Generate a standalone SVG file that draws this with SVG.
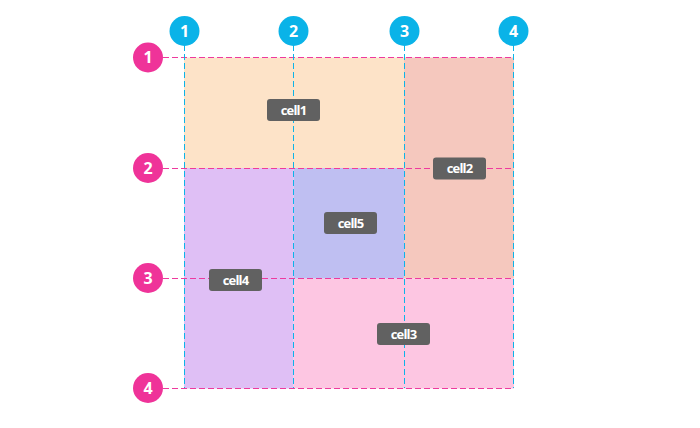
<svg xmlns="http://www.w3.org/2000/svg" width="700" height="428" viewBox="0 0 700 428">
<style>
.lbl rect{fill:#616161}
.lbl text{fill:#fff;font-family:"Open Sans","DejaVu Sans",sans-serif;font-weight:bold;font-size:13px;text-anchor:middle;letter-spacing:-0.8px}
.col line{stroke:#0CB4E8;stroke-width:1;stroke-dasharray:6 3}
.row line{stroke:#EE3A9E;stroke-width:1;stroke-dasharray:6 3}
.cc{fill:#0AB3E8}
.rc{fill:#EF3399}
.num{fill:#fff;font-family:"Open Sans","DejaVu Sans",sans-serif;font-weight:bold;font-size:16px;text-anchor:middle}
</style>
<g id="cells">
<rect id="cell1-bg" x="184" y="57.5" width="220" height="110.5" fill="#FDE3C8"/>
<rect id="cell2-bg" x="404" y="57.5" width="110" height="221" fill="#F5C8BE"/>
<rect id="cell3-bg" x="293.5" y="278.5" width="220.5" height="110" fill="#FDC6E2"/>
<rect id="cell4-bg" x="184" y="168" width="109.5" height="220.5" fill="#DFBFF5"/>
<rect id="cell5-bg" x="293.5" y="168" width="110.5" height="110.5" fill="#BFBFF2"/>
</g>
<g id="connectors">
<g class="row">
<line x1="163" y1="57.5" x2="514" y2="57.5"/>
<line x1="163" y1="168.5" x2="514" y2="168.5"/>
<line x1="163" y1="278.5" x2="514" y2="278.5"/>
<line x1="163" y1="388.5" x2="514" y2="388.5"/>
</g>
<g class="col">
<line x1="184.5" y1="45" x2="184.5" y2="388"/>
<line x1="293.5" y1="45" x2="293.5" y2="388"/>
<line x1="404.5" y1="45" x2="404.5" y2="388"/>
<line x1="513.5" y1="45" x2="513.5" y2="388"/>
</g>
</g>
<g id="col1"><circle class="cc" cx="184.5" cy="31" r="15"/><text class="num" x="184.5" y="36.5">1</text></g>
<g id="col2"><circle class="cc" cx="293.5" cy="31" r="15"/><text class="num" x="293.5" y="36.5">2</text></g>
<g id="col3"><circle class="cc" cx="404.5" cy="31" r="15"/><text class="num" x="404.5" y="36.5">3</text></g>
<g id="col4"><circle class="cc" cx="513.5" cy="31" r="15"/><text class="num" x="513.5" y="36.5">4</text></g>
<g id="row1"><circle class="rc" cx="148" cy="57.5" r="15"/><text class="num" x="148" y="63">1</text></g>
<g id="row2"><circle class="rc" cx="148" cy="168" r="15"/><text class="num" x="148" y="173.5">2</text></g>
<g id="row3"><circle class="rc" cx="148" cy="278" r="15"/><text class="num" x="148" y="283.5">3</text></g>
<g id="row4"><circle class="rc" cx="148" cy="388" r="15"/><text class="num" x="148" y="393.5">4</text></g>
<g id="cell1" class="lbl"><rect x="267" y="99" width="53" height="22" rx="3"/><text x="293.5" y="114.5">cell1</text></g>
<g id="cell2" class="lbl"><rect x="433" y="157.5" width="53" height="22" rx="3"/><text x="459.5" y="173">cell2</text></g>
<g id="cell5" class="lbl"><rect x="324" y="212" width="53" height="22" rx="3"/><text x="350.5" y="227.5">cell5</text></g>
<g id="cell4" class="lbl"><rect x="209" y="269" width="53" height="22" rx="3"/><text x="235.5" y="284.5">cell4</text></g>
<g id="cell3" class="lbl"><rect x="377" y="323" width="53" height="22" rx="3"/><text x="403.5" y="338.5">cell3</text></g>
</svg>
